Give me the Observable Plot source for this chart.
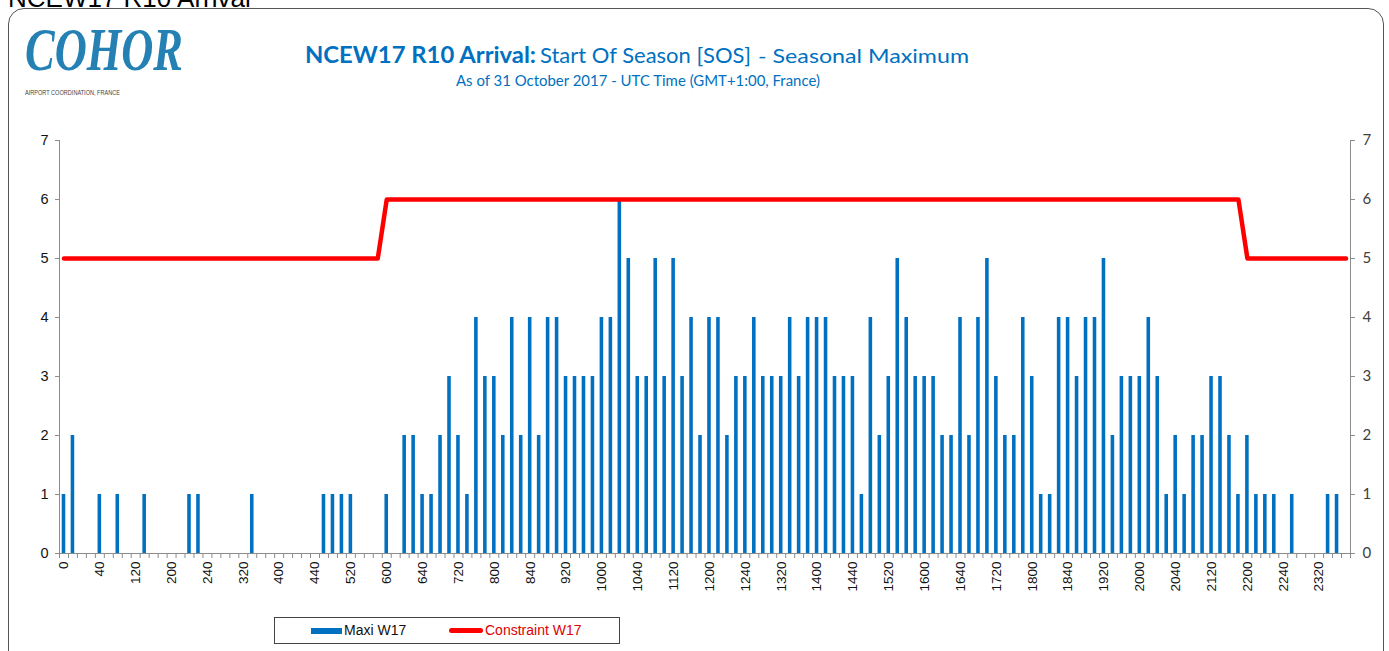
<!DOCTYPE html>
<html><head><meta charset="utf-8">
<script src="https://cdn.jsdelivr.net/npm/d3@7"></script>
<script src="https://cdn.jsdelivr.net/npm/@observablehq/plot@0.6"></script>
<style>
html,body{margin:0;padding:0;background:#fff;}
body{width:1389px;height:651px;position:relative;overflow:hidden;}
#frame{position:absolute;left:8px;top:8px;width:1376px;height:700px;border:1px solid #555;border-radius:16px;box-sizing:border-box;}
#cut{position:absolute;left:8px;top:-15px;font:26px "Liberation Sans",Arial,sans-serif;color:#000;line-height:26px;white-space:nowrap;}
#head{position:absolute;left:0;top:0;}
#chart{position:absolute;left:0;top:100px;}
#legend{position:absolute;left:274px;top:617px;width:346px;height:27px;border:1px solid #444;box-sizing:border-box;font:14px "Liberation Sans",Arial,sans-serif;background:#fff;}
#legend span{position:absolute;white-space:nowrap;}
</style></head>
<body>
<div id="cut">NCEW17 R10 Arrival</div>
<div id="frame"></div>
<svg id="head" width="1389" height="100">
  <text x="25" y="70" font-family="Liberation Serif" font-weight="bold" font-style="italic" font-size="62" fill="#2580b3" textLength="158" lengthAdjust="spacingAndGlyphs">COHOR</text>
  <text x="25" y="95" font-family="Liberation Sans" font-size="7.5" fill="#444" textLength="95" lengthAdjust="spacingAndGlyphs">AIRPORT COORDINATION, FRANCE</text>
  <text x="305" y="63" font-family="Lato" font-weight="bold" font-size="22" fill="#0070c0" textLength="231" lengthAdjust="spacingAndGlyphs">NCEW17 R10 Arrival:</text>
  <text x="540" y="63" font-family="Lato" font-size="22" fill="#0070c0" textLength="211" lengthAdjust="spacingAndGlyphs">Start Of Season [SOS]</text>
  <text x="758" y="63" font-family="Lato" font-size="19" fill="#0070c0" textLength="211" lengthAdjust="spacingAndGlyphs">- Seasonal Maximum</text>
  <text x="456" y="86" font-family="Lato" font-size="14.5" fill="#0070c0" textLength="364" lengthAdjust="spacingAndGlyphs">As of 31 October 2017 - UTC Time (GMT+1:00, France)</text>
</svg>
<div id="chart"></div>
<div id="legend">
  <span style="left:36px;top:10px;width:31px;height:6px;background:#0070c0;"></span>
  <span style="left:69px;top:4px;color:#111;">Maxi W17</span>
  <span style="left:174px;top:10px;width:34px;height:5px;background:#ff0000;border-radius:3px;"></span>
  <span style="left:210px;top:4px;color:#e00000;">Constraint W17</span>
</div>
<script>
const slots = [
  "0","10","20","30","40","50",
  "100","110","120","130","140","150",
  "200","210","220","230","240","250",
  "300","310","320","330","340","350",
  "400","410","420","430","440","450",
  "500","510","520","530","540","550",
  "600","610","620","630","640","650",
  "700","710","720","730","740","750",
  "800","810","820","830","840","850",
  "900","910","920","930","940","950",
  "1000","1010","1020","1030","1040","1050",
  "1100","1110","1120","1130","1140","1150",
  "1200","1210","1220","1230","1240","1250",
  "1300","1310","1320","1330","1340","1350",
  "1400","1410","1420","1430","1440","1450",
  "1500","1510","1520","1530","1540","1550",
  "1600","1610","1620","1630","1640","1650",
  "1700","1710","1720","1730","1740","1750",
  "1800","1810","1820","1830","1840","1850",
  "1900","1910","1920","1930","1940","1950",
  "2000","2010","2020","2030","2040","2050",
  "2100","2110","2120","2130","2140","2150",
  "2200","2210","2220","2230","2240","2250",
  "2300","2310","2320","2330","2340","2350"
];
const maxiW17 = [
  1,2,0,0,1,0,
  1,0,0,1,0,0,
  0,0,1,1,0,0,
  0,0,0,1,0,0,
  0,0,0,0,0,1,
  1,1,1,0,0,0,
  1,0,2,2,1,1,
  2,3,2,1,4,3,
  3,2,4,2,4,2,
  4,4,3,3,3,3,
  4,4,6,5,3,3,
  5,3,5,3,4,2,
  4,4,2,3,3,4,
  3,3,3,4,3,4,
  4,4,3,3,3,1,
  4,2,3,5,4,3,
  3,3,2,2,4,2,
  4,5,3,2,2,4,
  3,1,1,4,4,3,
  4,4,5,2,3,3,
  3,4,3,1,2,1,
  2,2,3,3,2,1,
  2,1,1,1,0,1,
  0,0,0,1,1,0
];
const constraintW17 = [
  5,5,5,5,5,5, 5,5,5,5,5,5, 5,5,5,5,5,5, 5,5,5,5,5,5, 5,5,5,5,5,5, 5,5,5,5,5,5,
  6,6,6,6,6,6, 6,6,6,6,6,6, 6,6,6,6,6,6, 6,6,6,6,6,6, 6,6,6,6,6,6, 6,6,6,6,6,6,
  6,6,6,6,6,6, 6,6,6,6,6,6, 6,6,6,6,6,6, 6,6,6,6,6,6, 6,6,6,6,6,6, 6,6,6,6,6,6,
  6,6,6,6,6,6, 6,6,6,6,6,6, 6,6,6,6,6,6, 6,6,6,6,6,6,
  5,5,5,5,5,5, 5,5,5,5,5,5
];
const tickLabels = ["0","40","120","200","240","320","400","440","520","600","640","720",
  "800","840","920","1000","1040","1120","1200","1240","1320","1400","1440","1520",
  "1600","1640","1720","1800","1840","1920","2000","2040","2120","2200","2240","2320"];
const yTicks = [0,1,2,3,4,5,6,7];

const data = slots.map((s, i) => ({slot: s, maxi: maxiW17[i], constraint: constraintW17[i]}));

const W = 1389, H = 510, ML = 59, MR = 39, MT = 40, MB = 57;
const step = (W - ML - MR) / slots.length;
const axisGray = "#8c8c8c";
const intFmt = d => String(d);

const chart = Plot.plot({
  width: W, height: H,
  marginLeft: ML, marginRight: MR, marginTop: MT, marginBottom: MB,
  style: {fontFamily: "Liberation Sans, Arial, sans-serif", fontSize: "14px", background: "transparent", overflow: "visible"},
  x: {type: "band", domain: slots, padding: 0, axis: null, label: null},
  y: {domain: [0, 7], axis: null, label: null},
  marks: [
    Plot.barY(data, {x: "slot", y: "maxi", fill: "#0070c0", insetLeft: 2.7, insetRight: 2.7}),
    Plot.ruleY([0], {stroke: axisGray}),
    Plot.ruleX([slots[0]], {y1: 0, y2: 7, dx: -step / 2, stroke: axisGray}),
    Plot.ruleX([slots[slots.length - 1]], {y1: 0, y2: 7, dx: step / 2, stroke: axisGray}),
    Plot.axisX(slots, {tickSize: 5, tickFormat: () => "", dx: -step / 2, stroke: axisGray, label: null}),
    Plot.axisX([slots[slots.length - 1]], {tickSize: 5, tickFormat: () => "", dx: step / 2, stroke: axisGray, label: null}),
    Plot.axisX(tickLabels, {tickSize: 0, tickPadding: 8, tickRotate: -90, fontSize: 13.5, fill: "#111", label: null}),
    Plot.axisY(yTicks, {anchor: "left", tickSize: 4, tickPadding: 7, tickFormat: intFmt, fontSize: 14.5, fill: "#111", stroke: axisGray, label: null}),
    Plot.axisY(yTicks, {anchor: "right", tickSize: 4, tickPadding: 8, tickFormat: intFmt, fontSize: 15, fontFamily: "Lato", fill: "#404040", stroke: axisGray, label: null}),
    Plot.line(data, {x: "slot", y: "constraint", stroke: "#ff0000", strokeWidth: 4.5, strokeLinejoin: "round", strokeLinecap: "round"})
  ]
});
document.getElementById("chart").appendChild(chart);
</script>
</body></html>
